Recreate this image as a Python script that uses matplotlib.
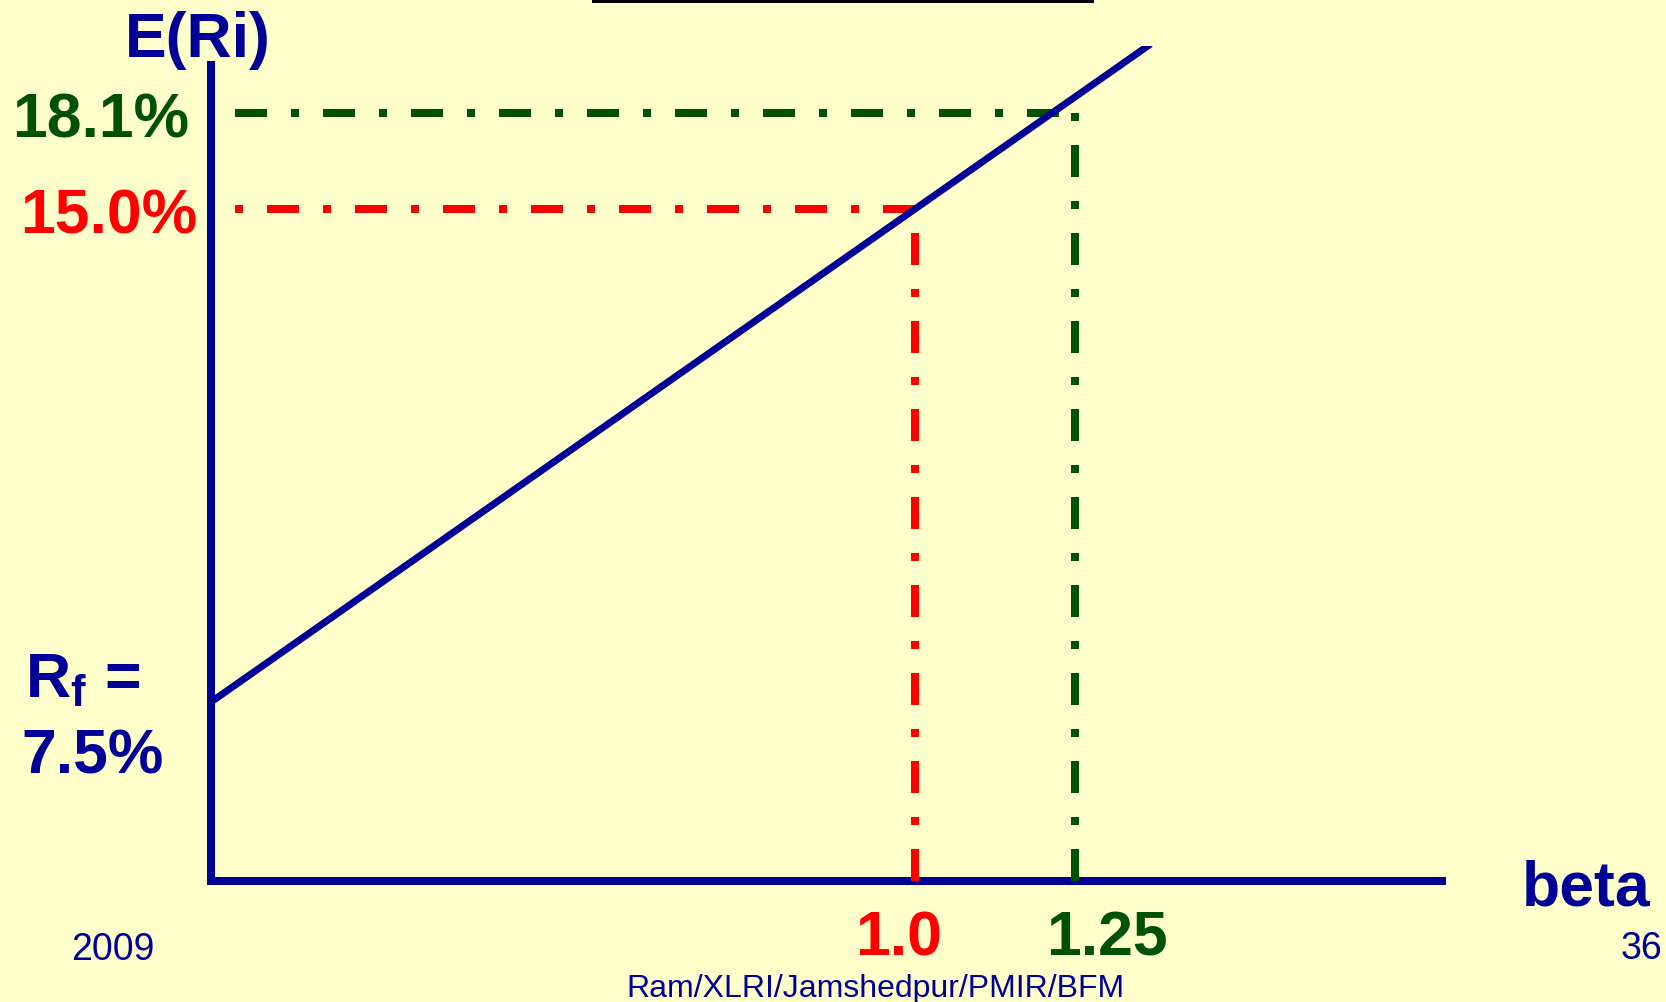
import numpy as np
import matplotlib.pyplot as plt
from matplotlib.lines import Line2D

# fonts: Arial look-alike, bold mathtext for the R_f label
plt.rcParams['font.family'] = 'Liberation Sans'
plt.rcParams['mathtext.fontset'] = 'custom'
plt.rcParams['mathtext.rm'] = 'Liberation Sans'
plt.rcParams['mathtext.bf'] = 'Liberation Sans:bold'

# ---- data: security market line ----
rf = 7.5                      # risk-free rate (%)
beta_market = 1.0
ret_market = 15.0             # E(Rm) (%)
beta_stock = 1.25
ret_stock = 18.1              # E(Ri) for beta 1.25 (%)

# slide is schematic, so both axes are stretched piecewise
ret_knots = [0.0, rf, ret_market, ret_stock, 20.2]
height_knots = [0, 179, 672, 768, 835]
beta_knots = [0.0, beta_market, beta_stock, 1.8]
width_knots = [0, 704, 864, 1231]


def make_scale(vals, pos):
    return (lambda v: np.interp(v, vals, pos),
            lambda p: np.interp(p, pos, vals))


BG = '#FFFFCC'
BLUE = '#000099'
RED = '#FF0000'
GREEN = '#005200'
PX = 0.72                     # points per pixel at dpi 100
dash_dot = (4, 3, 1, 3)       # in units of line width

fig = plt.figure(figsize=(16.66, 10.02), dpi=100, facecolor=BG)
ax = fig.add_axes([211 / 1666, 121 / 1002, 1231 / 1666, 835 / 1002])
ax.set_facecolor(BG)
ax.set_xscale('function', functions=make_scale(beta_knots, width_knots))
ax.set_yscale('function', functions=make_scale(ret_knots, height_knots))
ax.set_xlim(0, 1.8)
ax.set_ylim(0, 20.2)

# axes as thick blue lines, no ticks
for s in ['top', 'right']:
    ax.spines[s].set_visible(False)
for s in ['left', 'bottom']:
    ax.spines[s].set_color(BLUE)
    ax.spines[s].set_linewidth(8 * PX)
ax.spines['left'].set_bounds(0, 19.6)
ax.set_xticks([])
ax.set_yticks([])
ax.minorticks_off()

# SML through (0, rf) and the market point
ax.axline((0, rf), (beta_market, ret_market), color=BLUE, lw=7 * PX, zorder=4)

# dash-dot guides
ax.plot([0, beta_market], [ret_market, ret_market], color=RED, lw=8 * PX,
        linestyle=(4, dash_dot), zorder=3)
ax.plot([beta_market, beta_market], [0, ret_market], color=RED, lw=8 * PX,
        linestyle=(0, dash_dot), zorder=3)
ax.plot([0, beta_stock], [ret_stock, ret_stock], color=GREEN, lw=8 * PX,
        linestyle=(8, dash_dot), zorder=3)
ax.plot([beta_stock, beta_stock], [0, ret_stock], color=GREEN, lw=8 * PX,
        linestyle=(0, dash_dot), zorder=3)

big = dict(fontsize=45, fontweight='bold', textcoords='offset pixels',
           annotation_clip=False)

# labels on the return axis
ax.annotate(f'{ret_stock:.1f}%', xy=(0, ret_stock), xytext=(-22, -24),
            ha='right', va='baseline', color=GREEN, **big)
ax.annotate(f'{ret_market:.1f}%', xy=(0, ret_market), xytext=(-14, -24),
            ha='right', va='baseline', color=RED, **big)
ax.annotate(r'$\mathbf{R_f}$ =', xy=(0, rf), xytext=(-128, 5),
            ha='center', va='baseline', color=BLUE, **big)
ax.annotate(f'{rf:.1f}%', xy=(0, rf), xytext=(-118, -71),
            ha='center', va='baseline', color=BLUE, **big)

# labels on the beta axis
ax.annotate(f'{beta_market:.1f}', xy=(beta_market, 0), xytext=(-16, -74),
            ha='center', va='baseline', color=RED, **big)
ax.annotate(f'{beta_stock:g}', xy=(beta_stock, 0), xytext=(32, -74),
            ha='center', va='baseline', color=GREEN, **big)

# axis titles
fig.text(125 / 1666, 1 - 57 / 1002, 'E(Ri)', fontsize=45, fontweight='bold',
         color=BLUE, ha='left', va='baseline')
fig.text(1651 / 1666, 1 - 906 / 1002, 'beta', fontsize=45, fontweight='bold',
         color=BLUE, ha='right', va='baseline')

# slide footer
fig.text(71 / 1666, 1 - 960 / 1002, '2009', fontsize=27, color=BLUE,
         ha='left', va='baseline')
fig.text(1662 / 1666, 1 - 959 / 1002, '36', fontsize=27, color=BLUE,
         ha='right', va='baseline')
fig.text(875 / 1666, 1 - 997 / 1002, 'Ram/XLRI/Jamshedpur/PMIR/BFM',
         fontsize=23, color=BLUE, ha='center', va='baseline')

# title underline cut off at the top edge
fig.add_artist(Line2D([594 / 1666, 1092 / 1666], [1 - 1 / 1002] * 2,
                      transform=fig.transFigure, color='black', lw=4 * PX))

fig.savefig('out.png', dpi=100, facecolor=BG)
